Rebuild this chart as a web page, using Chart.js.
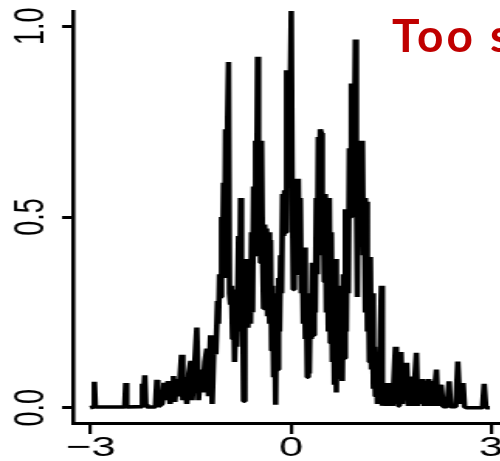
<!DOCTYPE html>
<html>
<head>
<meta charset="utf-8">
<script src="https://cdn.jsdelivr.net/npm/chart.js@4.4.1/dist/chart.umd.min.js"></script>
<style>
  html, body { margin: 0; padding: 0; background: #fff; }
  body { width: 500px; height: 461px; overflow: hidden; position: relative; }
  /* the original plot is stretched sideways, so the canvas is squeezed and scaled back out */
  #wrap { position: absolute; left: 0; top: 0; width: 340px; height: 461px; transform: scaleX(1.55); transform-origin: 0 0; }
  #note { position: absolute; left: 392px; top: 12px; font: bold 46px Lato, "Open Sans", sans-serif; letter-spacing: 3px; color: #c00000; white-space: nowrap; line-height: 1; }
</style>
</head>
<body>
<div id="wrap"><canvas id="densChart" width="340" height="461"></canvas></div>
<div id="note">Too s</div>
<script>
// --- data (kernel density, bandwidth too small) ---
const densX = [
  -3.01, -2.96, -2.945, -2.93, -2.49, -2.475, -2.46, -2.24, -2.225, -2.21, -2.19, -2.175, -2.16,
  -2.03, -2.01, -1.995, -1.985,
  -1.93, -1.90, -1.87, -1.84, -1.81, -1.78, -1.76, -1.74, -1.71, -1.68, -1.64, -1.62, -1.59, -1.56,
  -1.53, -1.50, -1.48, -1.45, -1.41, -1.385, -1.35, -1.32, -1.29, -1.26, -1.235, -1.205, -1.18,
  -1.15, -1.125, -1.10, -1.085, -1.07, -1.055, -1.04, -1.025, -1.01, -0.995, -0.98, -0.965, -0.95,
  -0.935, -0.92, -0.905, -0.89, -0.875, -0.86, -0.845, -0.82, -0.81, -0.785, -0.77, -0.755, -0.74,
  -0.725, -0.71, -0.69, -0.675, -0.66, -0.645, -0.62, -0.605, -0.59, -0.575, -0.56, -0.545, -0.53,
  -0.515, -0.50, -0.485, -0.47, -0.455, -0.44, -0.425, -0.41, -0.395, -0.38, -0.365, -0.35, -0.335,
  -0.32, -0.305, -0.29, -0.275, -0.26, -0.245, -0.23, -0.215, -0.20, -0.185, -0.17, -0.155, -0.14,
  -0.125, -0.11, -0.095, -0.08, -0.065, -0.05, -0.035, -0.02, 0.005, 0.02, 0.035, 0.05, 0.065, 0.08,
  0.095, 0.11, 0.125, 0.14, 0.155, 0.17, 0.185, 0.20, 0.215, 0.23, 0.245, 0.26, 0.275, 0.29, 0.305,
  0.32, 0.335, 0.35, 0.365, 0.38, 0.395, 0.41, 0.425, 0.44, 0.455, 0.47, 0.485, 0.50, 0.515, 0.53,
  0.545, 0.56, 0.575, 0.59, 0.605, 0.62, 0.635, 0.65, 0.665, 0.68, 0.695, 0.71, 0.725, 0.74, 0.755,
  0.77, 0.785, 0.80, 0.815, 0.83, 0.845, 0.86, 0.875, 0.89, 0.905, 0.92, 0.935, 0.95, 0.965, 0.98,
  0.995, 1.01, 1.025, 1.04, 1.055, 1.07, 1.085, 1.10, 1.115, 1.13, 1.145, 1.16, 1.175, 1.19, 1.205,
  1.22, 1.235, 1.25, 1.265, 1.28, 1.295, 1.31, 1.325, 1.34, 1.355, 1.37, 1.385, 1.40, 1.415, 1.43,
  1.445, 1.46, 1.475, 1.49, 1.505, 1.52, 1.54, 1.565, 1.58, 1.595, 1.61, 1.625, 1.65, 1.67, 1.69,
  1.715, 1.735, 1.76, 1.78, 1.80, 1.83, 1.85, 1.88, 1.90, 1.92, 1.945, 1.975, 2.00, 2.02, 2.04,
  2.065, 2.09, 2.11, 2.13, 2.18, 2.20, 2.22, 2.25, 2.28, 2.34, 2.37, 2.39, 2.47, 2.50, 2.53, 2.55,
  2.58, 2.60, 2.63, 2.87, 2.895, 2.92, 2.98
];
const densY = [
  0, 0.002, 0.068, 0.002, 0.002, 0.065, 0.002, 0.003, 0.063, 0.03, 0.085, 0.01, 0.002,
  0.002, 0.073, 0.04, 0.003,
  0.01, 0.065, 0.02, 0.07, 0.01, 0.06, 0.083, 0.015, 0.075, 0.03, 0.139, 0.02, 0.08, 0.01,
  0.09, 0.123, 0.02, 0.09, 0.21, 0.02, 0.10, 0.04, 0.12, 0.155, 0.03, 0.19, 0.01,
  0.19, 0.14, 0.28, 0.22, 0.35, 0.29, 0.50, 0.36, 0.59, 0.34, 0.73, 0.36, 0.75,
  0.906, 0.30, 0.27, 0.32, 0.18, 0.31, 0.12, 0.30, 0.16, 0.45, 0.25, 0.55, 0.20,
  0.30, 0.017, 0.33, 0.22, 0.39, 0.21, 0.36, 0.22, 0.46, 0.25, 0.58, 0.40, 0.70,
  0.52, 0.92, 0.55, 0.62, 0.38, 0.70, 0.40, 0.26, 0.48, 0.28, 0.47, 0.24, 0.46,
  0.22, 0.44, 0.15, 0.32, 0.08, 0.30, 0.008, 0.30, 0.10, 0.34, 0.20, 0.40, 0.30,
  0.56, 0.45, 0.57, 0.46, 0.885, 0.60, 0.88, 0.70, 1.04, 0.55, 0.31, 0.58, 0.40, 0.60,
  0.45, 0.60, 0.35, 0.55, 0.30, 0.42, 0.22, 0.42, 0.18, 0.30, 0.08, 0.25, 0.09, 0.30, 0.18,
  0.38, 0.19, 0.38, 0.25, 0.55, 0.35, 0.71, 0.45, 0.73, 0.72, 0.40, 0.55, 0.33, 0.56, 0.25,
  0.55, 0.20, 0.55, 0.17, 0.46, 0.12, 0.39, 0.06, 0.39, 0.04, 0.30, 0.08, 0.32, 0.10, 0.30,
  0.07, 0.35, 0.13, 0.52, 0.20, 0.52, 0.30, 0.68, 0.50, 0.85, 0.55, 0.85, 0.70, 0.965, 0.60,
  0.29, 0.70, 0.50, 0.70, 0.45, 0.70, 0.40, 0.55, 0.25, 0.54, 0.20, 0.36, 0.12, 0.395, 0.10,
  0.30, 0.05, 0.16, 0.03, 0.12, 0.01, 0.08, 0.015, 0.20, 0.32, 0.005, 0.06, 0.005, 0.065, 0.01,
  0.06, 0.005, 0.065, 0.01, 0.06, 0.005, 0.065, 0.16, 0.01, 0.07, 0.005, 0.06, 0.146, 0.01, 0.10,
  0.02, 0.118, 0.005, 0.06, 0.082, 0.005, 0.06, 0.144, 0.005, 0.06, 0.01, 0.075, 0.005, 0.07, 0.005,
  0.075, 0.005, 0.07, 0.005, 0.10, 0.005, 0.05, 0.06, 0.003, 0.003, 0.069, 0.003, 0.003, 0.121, 0.01, 0.04,
  0.065, 0.003, 0, 0, 0.063, 0, 0
];

const xTickValues = [-3, 0, 3];
const xTickLabels = ['\u22123', '0', '3'];
const yTickValues = [0, 0.5, 1];
const yTickLabels = ['0.0', '0.5', '1.0'];

const FONT = "'Liberation Sans', Arial, Helvetica, sans-serif";

const points = densX.map((x, i) => ({ x: x, y: densY[i] }));

new Chart(document.getElementById('densChart'), {
  type: 'line',
  data: {
    datasets: [{
      data: points,
      borderColor: '#000',
      borderWidth: 3.6,
      borderJoinStyle: 'bevel',
      pointRadius: 0,
      tension: 0,
      fill: false
    }]
  },
  options: {
    responsive: false,
    devicePixelRatio: 1,
    animation: false,
    events: [],
    layout: { padding: { top: 11, right: 5.9, bottom: 0, left: 0 } },
    plugins: { legend: { display: false }, tooltip: { enabled: false } },
    scales: {
      x: {
        type: 'linear',
        position: 'bottom',
        min: -3.25,
        max: 3.4,
        afterBuildTicks: s => { s.ticks = xTickValues.map(v => ({ value: v })); },
        afterFit: s => { s.height = 38; s.paddingLeft = 0; s.paddingRight = 0; },
        grid: { drawOnChartArea: false, drawTicks: true, tickLength: 11, lineWidth: 2.2, color: '#000' },
        border: { display: true, width: 3, color: '#000' },
        ticks: {
          autoSkip: false, maxRotation: 0, padding: 0, color: '#000',
          font: { family: FONT, size: 28, lineHeight: 1 },
          callback: (v, i) => xTickLabels[i]
        }
      },
      y: {
        type: 'linear',
        position: 'left',
        min: -0.04,
        max: 1.04,
        afterBuildTicks: s => { s.ticks = yTickValues.map(v => ({ value: v })); },
        afterFit: s => { s.width = 47.74; s.paddingTop = 0; s.paddingBottom = 0; },
        grid: { drawOnChartArea: false, drawTicks: true, tickLength: 7.7, lineWidth: 3, color: '#000' },
        border: { display: true, width: 2.6, color: '#000' },
        ticks: {
          autoSkip: false, minRotation: 90, maxRotation: 90, crossAlign: 'center', padding: 1, color: '#000',
          font: { family: FONT, size: 27 },
          callback: (v, i) => yTickLabels[i]
        }
      }
    }
  }
});
</script>
</body>
</html>
